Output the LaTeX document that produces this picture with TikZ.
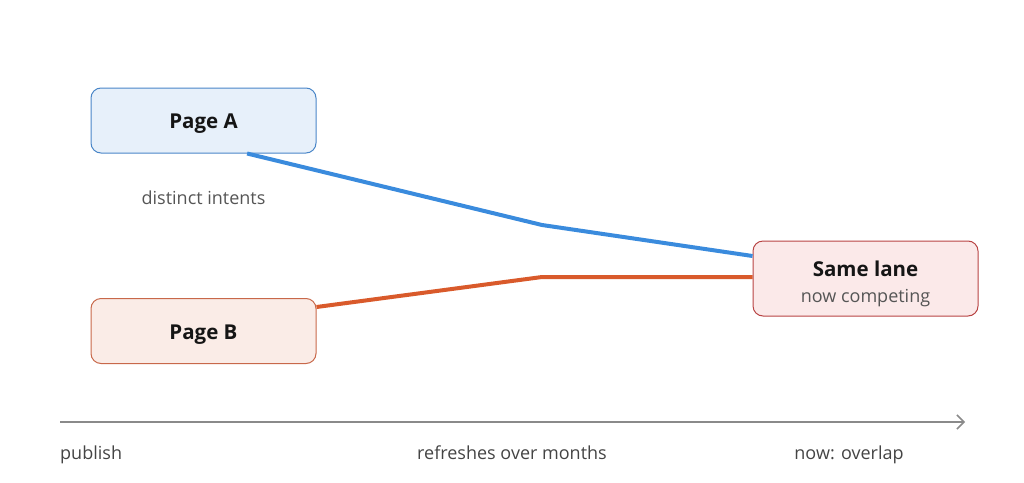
\documentclass[tikz,border=0pt]{standalone}
\usepackage{fontspec}
\setmainfont{Open Sans}
\usetikzlibrary{calc,arrows.meta}
\definecolor{blueline}{HTML}{3A8BDD}
\definecolor{orangeline}{HTML}{D95A2B}
\definecolor{afill}{HTML}{E7F0FA}
\definecolor{adraw}{HTML}{4A86C8}
\definecolor{bfill}{HTML}{FAECE7}
\definecolor{bdraw}{HTML}{C8684A}
\definecolor{cfill}{HTML}{FBE9E9}
\definecolor{cdraw}{HTML}{B84444}
\definecolor{axisgray}{HTML}{8A8A8A}
\definecolor{labelgray}{HTML}{444444}
\definecolor{subgray}{HTML}{555555}
\definecolor{titleblack}{HTML}{151515}
\begin{document}
\begin{tikzpicture}[x=1pt,y=-1pt,
  pagebox/.style={rounded corners=10pt,line width=1pt,minimum width=225pt,minimum height=65pt,inner sep=0pt},
  ttl/.style={font=\fontsize{20.5}{24}\selectfont\bfseries,text=titleblack,inner sep=0pt,anchor=base},
  lbl/.style={font=\fontsize{18}{21}\selectfont,text=labelgray,inner sep=0pt,anchor=base},
  conn/.style={line width=4pt,line join=round}]
\useasboundingbox (0,0) rectangle (1024,482);
\node[pagebox,fill=afill,draw=adraw] (A) at (203.5,120.5) {};
\node[ttl] (At) at (203.5,128.5) {Page A};
\node[pagebox,fill=bfill,draw=bdraw] (B) at (203.5,331) {};
\node[ttl] (Bt) at (203.5,339) {Page B};
\node[pagebox,fill=cfill,draw=cdraw,minimum height=75pt] (C) at (865.5,278.5) {};
\node[ttl] (Ct) at (865.5,276) {Same lane};
\node[lbl,text=subgray] (Cs) at (865.5,302.5) {now competing};
\node[lbl,text=subgray] (di) at (203.5,204) {distinct intents};
\coordinate (bm) at (542,225);
\coordinate (om) at (542,277);
\draw[conn,blueline] ($(A.south west)!0.693!(A.south east)$) -- (bm) -- (C.west |- 0,256);
\draw[conn,orangeline] (B.east |- 0,307) -- (om) -- (C.west |- 0,277);
\coordinate (ax0) at (60,422);
\coordinate (ax1) at (965,422);
\draw[axisgray,line width=2pt,-{Straight Barb[length=7pt,width=14pt,line width=1.5pt]}] (ax0) -- (ax1);
\node[lbl,anchor=base west] (p) at (60,459.5) {publish};
\node[lbl] (r) at (512,459.5) {refreshes over months};
\node[lbl] (n) at (849,459.5) {now: overlap};
\end{tikzpicture}
\end{document}
